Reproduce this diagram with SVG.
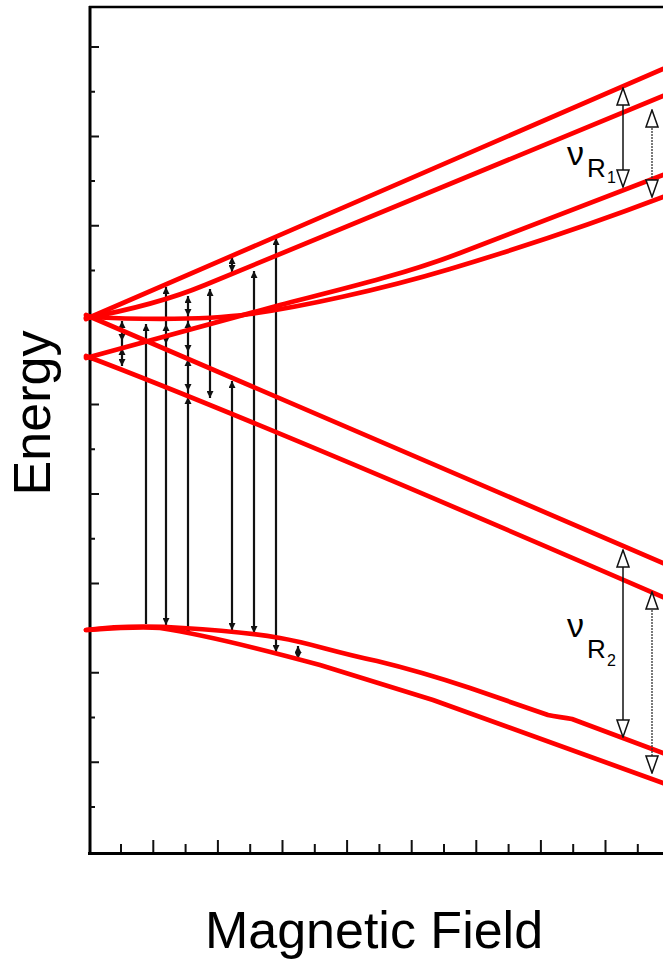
<svg xmlns="http://www.w3.org/2000/svg" width="663" height="960" viewBox="0 0 663 960">
<style>
.ax{fill:none;stroke:#000;stroke-width:3}
.tk{fill:none;stroke:#111;stroke-width:2}
.red{fill:none;stroke:#ff0000;stroke-width:4.7;stroke-linecap:round;stroke-linejoin:round}
.tr{fill:none;stroke:#111;stroke-width:2.2}
.rt{fill:none;stroke:#111;stroke-width:1.5}
.rtd{fill:none;stroke:#333;stroke-width:1.3;stroke-dasharray:2 1}
.lab{font-family:"Liberation Sans",Arial,sans-serif;fill:#000}
.mk{fill:#111}
</style>
<defs>
<marker id="sa" markerUnits="userSpaceOnUse" markerWidth="7" markerHeight="7" refX="7" refY="3.5" orient="auto-start-reverse"><path d="M0,0 L7,3.5 L0,7 z" fill="#111"/></marker>
<marker id="ha" markerUnits="userSpaceOnUse" markerWidth="19" markerHeight="14" refX="18" refY="7" orient="auto-start-reverse"><path d="M1,1 L18,7 L1,13 z" fill="#fff" stroke="#111" stroke-width="1.5"/></marker>
<path id="tu" d="M-3.5,3 L0,-4 L3.5,3 z"/>
<path id="td" d="M-3.5,-3 L0,4 L3.5,-3 z"/>
</defs>
<rect width="663" height="960" fill="#fff"/>
<g id="axes">
<path class="ax" d="M90,6 V855 M88,853.5 H663"/>
<path fill="none" stroke="#000" stroke-width="2.5" d="M89,7 H663"/>
<path class="tk" d="M90,47 h9 M90,91.7 h5 M90,136.4 h9 M90,181 h5 M90,225.8 h9 M90,270.5 h5 M90,315.2 h9 M90,360 h5 M90,404.6 h9 M90,449.3 h5 M90,494 h9 M90,538.7 h5 M90,583.4 h9 M90,628 h5 M90,672.8 h9 M90,717.5 h5 M90,762.2 h9 M90,806.9 h5"/>
<path class="tk" d="M121,852 v-8 M153.3,852 v-12 M185.6,852 v-8 M217.9,852 v-12 M250.2,852 v-8 M282.5,852 v-12 M314.8,852 v-8 M347.1,852 v-12 M379.4,852 v-8 M411.7,852 v-12 M444,852 v-8 M476.3,852 v-12 M508.6,852 v-8 M540.9,852 v-12 M573.2,852 v-8 M605.5,852 v-12 M637.8,852 v-8"/>
</g>
<g id="transitions">
<path class="tr" d="M122,321 V366" marker-start="url(#sa)" marker-end="url(#sa)"/>
<use href="#td" x="122" y="337" class="mk"/>
<use href="#tu" x="122" y="352" class="mk"/>
<path class="tr" stroke-width="1.8" d="M146,324 V624" marker-start="url(#sa)"/>
<path class="tr" d="M166,287 V625" marker-start="url(#sa)" marker-end="url(#sa)"/>
<use href="#tu" x="166" y="328" class="mk"/>
<use href="#td" x="166" y="340" class="mk"/>
<path class="tr" d="M188,296 V634" marker-start="url(#sa)" marker-end="url(#sa)"/>
<use href="#td" x="188" y="312" class="mk"/>
<use href="#tu" x="188" y="325" class="mk"/>
<use href="#td" x="188" y="348" class="mk"/>
<use href="#tu" x="188" y="363" class="mk"/>
<use href="#td" x="188" y="387" class="mk"/>
<use href="#tu" x="188" y="401" class="mk"/>
<path class="tr" d="M210,289 V398" marker-start="url(#sa)" marker-end="url(#sa)"/>
<path class="tr" d="M232,257 V272" marker-start="url(#sa)" marker-end="url(#sa)"/>
<path class="tr" d="M232,381 V630" marker-start="url(#sa)" marker-end="url(#sa)"/>
<path class="tr" d="M254,271 V633" marker-start="url(#sa)" marker-end="url(#sa)"/>
<path class="tr" d="M276,238 V652" marker-start="url(#sa)" marker-end="url(#sa)"/>
<path class="tr" d="M298,646 V659" marker-start="url(#sa)" marker-end="url(#sa)"/>
</g>
<g id="levels">
<path class="red" d="M86,319 L663,69"/>
<path class="red" d="M86,318 C130,310 170,299.5 205,285 L663,96"/>
<path class="red" d="M86,317 C130,319 200,321 250,314 S380,290 450,269 S600,221 663,197"/>
<path class="red" d="M86,358 L280,305 C330,292 400,276 460,253 L663,175"/>
<path class="red" d="M86,315 L663,563"/>
<path class="red" d="M86,356 Q250,418 663,597"/>
<path class="red" d="M86,630 C110,627 140,625 183,628 C220,630 250,633 280,638 S330,651 377,661 C410,669 440,678 470,688 L548,715 C556,717 562,717 572,719 L663,753"/>
<path class="red" d="M86,630 C115,628 140,626 160,628 C200,634 250,646 320,665 L433,700 L663,783"/>
</g>
<g id="resonances">
<path class="rt" d="M623,88 V187" marker-start="url(#ha)" marker-end="url(#ha)"/>
<path class="rtd" d="M652,110 V197" marker-start="url(#ha)" marker-end="url(#ha)"/>
<path class="rt" d="M623,550 V737" marker-start="url(#ha)" marker-end="url(#ha)"/>
<path class="rtd" d="M652,592 V773" marker-start="url(#ha)" marker-end="url(#ha)"/>
</g>
<g id="labels">
<text class="lab"><tspan x="567" y="165" font-size="34">ν</tspan><tspan x="587" y="177" font-size="26">R</tspan><tspan x="607" y="183" font-size="16">1</tspan></text>
<text class="lab"><tspan x="567" y="637" font-size="34">ν</tspan><tspan x="587" y="658" font-size="26">R</tspan><tspan x="607" y="666" font-size="16">2</tspan></text>
<text class="lab" font-size="52" text-anchor="middle" transform="translate(50,413) rotate(-90)">Energy</text>
<text class="lab" font-size="52" text-anchor="middle" x="374" y="948">Magnetic Field</text>
</g>
</svg>
